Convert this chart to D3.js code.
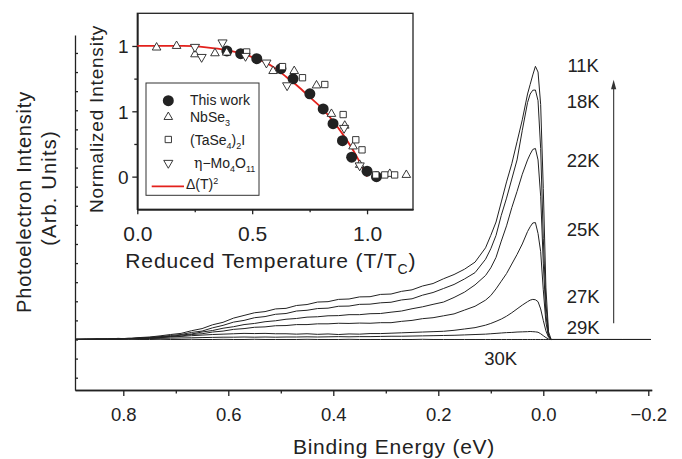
<!DOCTYPE html>
<html>
<head>
<meta charset="utf-8">
<script src="https://cdn.jsdelivr.net/npm/d3@7"></script>
<style>
  html, body { margin: 0; padding: 0; background: #fff; }
  svg text { font-family: "Liberation Sans", Arial, sans-serif; fill: #222; }
</style>
</head>
<body>
<div id="chart"></div>
<script>
;(function () {

    // Binding energy grid (eV), shared by every spectrum
    var energy = [
        0.89, 0.87, 0.85, 0.83, 0.81, 0.79, 0.77, 0.75, 0.73, 0.71,
        0.69, 0.67, 0.65, 0.63, 0.61, 0.59, 0.57, 0.55, 0.53, 0.51,
        0.49, 0.47, 0.45, 0.43, 0.41, 0.39, 0.37, 0.35, 0.33, 0.31,
        0.29, 0.27, 0.25, 0.23, 0.21, 0.19, 0.17, 0.15, 0.13, 0.11,
        0.10, 0.09, 0.08, 0.07, 0.06, 0.05, 0.04, 0.03,
        0.025, 0.02, 0.015, 0.01, 0.005, 0.0, -0.005, -0.01, -0.015,
        -0.05, -0.10, -0.15, -0.205
    ];

    var temperatures = ['11K', '18K', '22K', '25K', '27K', '29K', '30K'];

    var spec11K = [
        0.02, 0.0, 0.04, 0.01, 0.06, 0.03, 0.1, 0.13, 0.19, 0.26,
        0.32, 0.46, 0.57, 0.77, 0.9, 1.12, 1.26, 1.4, 1.46, 1.6,
        1.63, 1.78, 1.83, 1.96, 1.98, 2.1, 2.12, 2.23, 2.24, 2.36,
        2.38, 2.52, 2.6, 2.8, 2.93, 3.18, 3.4, 3.68, 4.05, 4.8,
        5.45, 6.15, 7.2, 8.25, 9.2, 10.35, 11.5, 12.85,
        13.35, 13.85, 14.3, 14.0, 12.3, 7.9, 2.7, 0.4, 0.0,
        0.0, 0.0, 0.0, 0.0
    ];
    var spec18K = [
        0.0, 0.03, 0.01, 0.04, 0.02, 0.07, 0.07, 0.11, 0.15, 0.21,
        0.26, 0.37, 0.44, 0.61, 0.74, 0.91, 1.0, 1.14, 1.2, 1.32,
        1.36, 1.49, 1.53, 1.62, 1.64, 1.74, 1.75, 1.84, 1.85, 1.92,
        1.95, 2.07, 2.13, 2.32, 2.46, 2.67, 2.88, 3.17, 3.5, 4.2,
        4.75, 5.45, 6.5, 7.4, 8.4, 9.4, 10.95, 12.4,
        12.85, 13.05, 13.06, 12.5, 10.0, 5.3, 1.9, 0.25, 0.0,
        0.0, 0.0, 0.0, 0.0
    ];
    var spec22K = [
        0.02, 0.0, 0.03, 0.01, 0.05, 0.04, 0.08, 0.08, 0.14, 0.16,
        0.23, 0.29, 0.39, 0.47, 0.59, 0.67, 0.78, 0.84, 0.93, 0.98,
        1.06, 1.1, 1.17, 1.19, 1.24, 1.25, 1.3, 1.3, 1.35, 1.36,
        1.43, 1.49, 1.61, 1.71, 1.84, 1.96, 2.2, 2.48, 2.86, 3.35,
        3.75, 4.3, 5.15, 5.95, 6.9, 7.75, 8.65, 9.4,
        9.7, 9.95, 10.0, 9.4, 7.5, 4.0, 1.3, 0.2, 0.0,
        0.0, 0.0, 0.0, 0.0
    ];
    var spec25K = [
        0.0, 0.02, 0.01, 0.03, 0.02, 0.05, 0.06, 0.09, 0.1, 0.16,
        0.18, 0.26, 0.3, 0.39, 0.44, 0.53, 0.57, 0.64, 0.66, 0.72,
        0.73, 0.78, 0.78, 0.82, 0.82, 0.85, 0.84, 0.86, 0.85, 0.88,
        0.88, 0.95, 1.0, 1.09, 1.14, 1.24, 1.34, 1.54, 1.74, 2.06,
        2.3, 2.65, 3.05, 3.45, 3.95, 4.45, 5.0, 5.65,
        5.9, 6.1, 6.12, 5.55, 4.6, 2.6, 0.9, 0.15, 0.0,
        0.0, 0.0, 0.0, 0.0
    ];
    var spec27K = [
        0.01, 0.0, 0.02, 0.01, 0.03, 0.04, 0.06, 0.08, 0.1, 0.13,
        0.16, 0.2, 0.23, 0.26, 0.28, 0.3, 0.32, 0.31, 0.32, 0.3,
        0.3, 0.28, 0.3, 0.27, 0.29, 0.26, 0.29, 0.28, 0.31, 0.31,
        0.33, 0.35, 0.37, 0.39, 0.41, 0.43, 0.48, 0.55, 0.62, 0.75,
        0.84, 0.95, 1.07, 1.22, 1.4, 1.6, 1.8, 1.98,
        2.06, 2.1, 2.08, 1.98, 1.6, 1.0, 0.45, 0.12, 0.0,
        0.0, 0.0, 0.0, 0.0
    ];
    var spec29K = [
        0.0, 0.02, 0.0, 0.02, 0.01, 0.03, 0.04, 0.05, 0.06, 0.07,
        0.08, 0.09, 0.1, 0.11, 0.12, 0.12, 0.13, 0.12, 0.13, 0.12,
        0.13, 0.13, 0.14, 0.13, 0.14, 0.15, 0.14, 0.15, 0.15, 0.16,
        0.17, 0.17, 0.18, 0.19, 0.2, 0.21, 0.22, 0.24, 0.26, 0.28,
        0.3, 0.32, 0.34, 0.36, 0.37, 0.39, 0.4, 0.41,
        0.42, 0.41, 0.4, 0.38, 0.3, 0.2, 0.1, 0.03, 0.0,
        0.0, 0.0, 0.0, 0.0
    ];
    var spec30K = [
        0.0, 0.01, 0.0, 0.01, 0.0, 0.01, 0.0, 0.0, 0.01, 0.0,
        0.0, 0.01, 0.0, 0.0, 0.01, 0.0, 0.0, 0.01, 0.0, 0.0,
        0.0, 0.0, 0.01, 0.0, 0.0, 0.0, 0.01, 0.0, 0.0, 0.0,
        0.0, 0.0, 0.0, 0.01, 0.0, 0.0, 0.0, 0.0, 0.0, 0.0,
        0.0, 0.0, 0.0, 0.0, 0.0, 0.0, 0.0, 0.0,
        0.0, 0.0, 0.0, 0.0, 0.0, 0.0, 0.0, 0.0, 0.0,
        0.0, 0.0, 0.0, 0.0
    ];
    var spectra = [spec11K, spec18K, spec22K, spec25K, spec27K, spec29K, spec30K];

    var energyTicks = [0.8, 0.6, 0.4, 0.2, 0.0, -0.2];
    var energyTickLabels = ['0.8', '0.6', '0.4', '0.2', '0.0', '\u22120.2'];
    var energyMinorTicks = [0.7, 0.5, 0.3, 0.1, -0.1];
    var intensityTicks = [-2, -1, 0, 1, 2, 3, 4, 5, 6, 7, 8, 9, 10, 11, 12, 13, 14, 15];

    // Inset: normalized intensity vs reduced temperature
    var thisWorkT = [0.39, 0.45, 0.52, 0.625, 0.678, 0.751, 0.809, 0.852, 0.893, 0.933, 1.0, 1.041];
    var thisWorkI = [0.962, 0.941, 0.903, 0.826, 0.749, 0.634, 0.518, 0.405, 0.275, 0.149, 0.042, 0.0];
    var nbse3T = [0.084, 0.171, 0.251, 0.338, 0.389, 0.591, 0.683, 0.78, 0.845, 0.903, 0.939, 0.968, 1.099, 1.171];
    var nbse3I = [0.988, 1.0, 0.936, 0.944, 0.949, 0.808, 0.808, 0.698, 0.48, 0.39, 0.231, 0.09, 0.021, 0.013];
    var tase4T = [0.476, 0.632, 0.719, 0.816, 0.896, 0.951, 0.978, 1.038, 1.077, 1.12];
    var tase4I = [0.954, 0.842, 0.757, 0.705, 0.475, 0.282, 0.205, 0.013, 0.013, 0.013];
    var mo4T = [0.251, 0.28, 0.371, 0.471, 0.562, 0.652, 0.9, 0.968];
    var mo4I = [0.992, 0.915, 1.026, 0.923, 0.872, 0.698, 0.372, 0.085];
    var gapT = [0, 0.1, 0.2, 0.3, 0.35, 0.4, 0.45, 0.5, 0.55, 0.6, 0.65, 0.7, 0.75, 0.8, 0.85, 0.9, 0.95, 0.98, 1.0];
    var gapI = [1.0, 1.0, 1.0, 0.99, 0.98, 0.965, 0.945, 0.915, 0.88, 0.83, 0.76, 0.69, 0.61, 0.53, 0.43, 0.31, 0.17, 0.07, 0.0];

    var insetXTicks = [0, 0.5, 1.0];
    var insetXTickLabels = ['0.0', '0.5', '1.0'];
    var insetXMinor = [0.25, 0.75];
    var insetYTicks = [0, 0.5, 1.0];
    var insetYTickLabels = ['0', '1', '1'];
    var insetYMinor = [0.25, 0.75];

    // label placement (data units), kept apart from the values
    var labelEnergy = -0.076;
    var labelLevel = [14.37, 12.45, 9.36, 5.77, 2.28, 0.64, -0.98];
    var label30KEnergy = 0.081;

    var W = 682, H = 459;
    var ink = '#222';

    var svg = d3.select('#chart').append('svg')
        .attr('width', W)
        .attr('height', H);

    var x = d3.scaleLinear().domain([0.892, -0.2065]).range([75, 651.7]);
    var y = d3.scaleLinear().domain([-2.644, 15.94]).range([390, 35]);

    // spectra
    var line = d3.line()
        .x(function (d) { return x(d[0]); })
        .y(function (d) { return y(d[1]); });

    svg.append('g').selectAll('path')
        .data(spectra)
        .enter()
        .append('path')
        .attr('d', function (s) { return line(d3.zip(energy, s)); })
        .attr('fill', 'none')
        .attr('stroke', ink)
        .attr('stroke-width', 1)
        .attr('stroke-linejoin', 'round');

    // axes
    function styleAxis(g) {
        g.selectAll('path, line').attr('stroke', ink).attr('stroke-width', 1.3);
        g.selectAll('text').attr('fill', ink);
    }

    var xAxis = svg.append('g')
        .attr('transform', 'translate(0,390)')
        .call(d3.axisBottom(x).tickValues(energyTicks).tickSize(6).tickSizeOuter(0)
            .tickFormat(function (d, i) { return energyTickLabels[i]; }))
        .call(styleAxis);
    xAxis.selectAll('text')
        .attr('dy', null)
        .attr('y', 31)
        .style('font-size', '18.5px');

    svg.append('g')
        .attr('transform', 'translate(0,390)')
        .call(d3.axisBottom(x).tickValues(energyMinorTicks).tickSize(3.5).tickSizeOuter(0).tickFormat(''))
        .call(styleAxis);

    svg.append('g')
        .attr('transform', 'translate(75,0)')
        .call(d3.axisLeft(y).tickValues(intensityTicks).tickSize(-3).tickSizeOuter(0).tickFormat(''))
        .call(styleAxis);

    // titles
    svg.append('text')
        .attr('transform', 'translate(394,454)')
        .attr('text-anchor', 'middle')
        .style('font-size', '21px')
        .style('letter-spacing', '0.75px')
        .text('Binding Energy (eV)');

    svg.append('text')
        .attr('transform', 'translate(31,202) rotate(-90)')
        .attr('text-anchor', 'middle')
        .style('font-size', '20px')
        .style('letter-spacing', '0.8px')
        .text('Photoelectron Intensity');

    svg.append('text')
        .attr('transform', 'translate(56,188) rotate(-90)')
        .attr('text-anchor', 'middle')
        .style('font-size', '20px')
        .style('letter-spacing', '1.2px')
        .text('(Arb. Units)');

    // temperature labels
    svg.append('g').selectAll('text')
        .data(temperatures)
        .enter()
        .append('text')
        .attr('x', function (d, i) { return x(i === 6 ? label30KEnergy : labelEnergy); })
        .attr('y', function (d, i) { return y(labelLevel[i]); })
        .attr('dy', '0.36em')
        .attr('text-anchor', 'middle')
        .style('font-size', '18.5px')
        .text(function (d) { return d; });

    // arrow towards lower temperature
    var ax = x(-0.134);
    svg.append('line')
        .attr('x1', ax).attr('x2', ax)
        .attr('y1', y(0.85)).attr('y2', y(13.2))
        .attr('stroke', '#444')
        .attr('stroke-width', 1.2);
    svg.append('path')
        .attr('d', 'M' + ax + ',' + y(13.6) + 'l-2.6,9.5h5.2z')
        .attr('fill', '#333');

    // ---- inset ----
    var ix = d3.scaleLinear().domain([0, 1.2]).range([137.3, 413]);
    var iy = d3.scaleLinear().domain([-0.25, 1.25]).range([209.3, 13.3]);

    svg.append('rect')
        .attr('x', ix(0)).attr('y', iy(1.25))
        .attr('width', ix(1.2) - ix(0))
        .attr('height', iy(-0.25) - iy(1.25))
        .attr('fill', '#fff')
        .attr('stroke', ink)
        .attr('stroke-width', 1.3);

    var ixAxis = svg.append('g')
        .attr('transform', 'translate(0,' + iy(-0.25) + ')')
        .call(d3.axisBottom(ix).tickValues(insetXTicks).tickSize(5).tickSizeOuter(0)
            .tickFormat(function (d, i) { return insetXTickLabels[i]; }))
        .call(styleAxis);
    ixAxis.selectAll('text')
        .attr('dy', null)
        .attr('y', 31.4)
        .style('font-size', '21px');
    svg.append('g')
        .attr('transform', 'translate(0,' + iy(-0.25) + ')')
        .call(d3.axisBottom(ix).tickValues(insetXMinor).tickSize(3).tickSizeOuter(0).tickFormat(''))
        .call(styleAxis);

    var iyAxis = svg.append('g')
        .attr('transform', 'translate(' + ix(0) + ',0)')
        .call(d3.axisLeft(iy).tickValues(insetYTicks).tickSize(5).tickSizeOuter(0)
            .tickFormat(function (d, i) { return insetYTickLabels[i]; }))
        .call(styleAxis);
    iyAxis.selectAll('text')
        .attr('x', -8.8)
        .attr('dy', '0.36em')
        .style('font-size', '19px');
    svg.append('g')
        .attr('transform', 'translate(' + ix(0) + ',0)')
        .call(d3.axisLeft(iy).tickValues(insetYMinor).tickSize(3).tickSizeOuter(0).tickFormat(''))
        .call(styleAxis);

    var ixTitle = svg.append('text')
        .attr('transform', 'translate(270.8,268.3)')
        .attr('text-anchor', 'middle')
        .style('font-size', '21px')
        .style('letter-spacing', '0.85px');
    ixTitle.append('tspan').text('Reduced Temperature (T/T');
    ixTitle.append('tspan').attr('dy', 6).style('font-size', '14px').text('C');
    ixTitle.append('tspan').attr('dy', -6).text(')');

    svg.append('text')
        .attr('transform', 'translate(103.3,119) rotate(-90)')
        .attr('text-anchor', 'middle')
        .style('font-size', '19px')
        .style('letter-spacing', '0.8px')
        .text('Normalized Intensity');

    // BCS-like gap curve
    var gapLine = d3.line()
        .x(function (d) { return ix(d[0]); })
        .y(function (d) { return iy(d[1]); })
        .curve(d3.curveMonotoneX);
    svg.append('path')
        .attr('d', gapLine(d3.zip(gapT, gapI)))
        .attr('fill', 'none')
        .attr('stroke', '#e3211c')
        .attr('stroke-width', 1.8);

    var symCircle = d3.symbol().type(d3.symbolCircle).size(95);
    var symTri = d3.symbol().type(d3.symbolTriangle).size(32);
    var symSquare = d3.symbol().type(d3.symbolSquare).size(40);
    var symDown = d3.symbol().type(d3.symbolTriangle).size(36);

    function markers(ts, is, sym, filled, rot) {
        svg.append('g').selectAll('path')
            .data(d3.zip(ts, is))
            .enter()
            .append('path')
            .attr('d', sym)
            .attr('transform', function (d) {
                return 'translate(' + ix(d[0]) + ',' + iy(d[1]) + ')' + (rot ? ' rotate(180)' : '');
            })
            .attr('fill', filled ? ink : '#fff')
            .attr('stroke', ink)
            .attr('stroke-width', filled ? 0 : 0.9);
    }

    markers(thisWorkT, thisWorkI, symCircle, true, false);
    markers(nbse3T, nbse3I, symTri, false, false);
    markers(tase4T, tase4I, symSquare, false, false);
    markers(mo4T, mo4I, symDown, false, true);

    // legend
    var lg = svg.append('g');
    lg.append('rect')
        .attr('x', 146).attr('y', 83)
        .attr('width', 113).attr('height', 112.3)
        .attr('fill', '#fff')
        .attr('stroke', '#333')
        .attr('stroke-width', 1);

    var legendRows = [100, 117, 139.5, 163, 184];
    var symX = 168.3, textX = 190;

    lg.append('path').attr('d', symCircle).attr('transform', 'translate(' + symX + ',' + (legendRows[0] + 0.7) + ')').attr('fill', ink);
    lg.append('path').attr('d', symTri).attr('transform', 'translate(' + symX + ',' + legendRows[1] + ')')
        .attr('fill', '#fff').attr('stroke', ink).attr('stroke-width', 0.9);
    lg.append('path').attr('d', symSquare).attr('transform', 'translate(' + symX + ',' + legendRows[2] + ')')
        .attr('fill', '#fff').attr('stroke', ink).attr('stroke-width', 0.9);
    lg.append('path').attr('d', symDown).attr('transform', 'translate(' + symX + ',' + legendRows[3] + ') rotate(180)')
        .attr('fill', '#fff').attr('stroke', ink).attr('stroke-width', 0.9);
    lg.append('line')
        .attr('x1', 151.7).attr('x2', 184)
        .attr('y1', legendRows[4] + 2.3).attr('y2', legendRows[4] + 2.3)
        .attr('stroke', '#e3211c').attr('stroke-width', 1.8);

    function legendText(row) {
        return lg.append('text')
            .attr('x', textX)
            .attr('y', legendRows[row])
            .attr('dy', '0.36em')
            .style('font-size', '14px');
    }
    function sub(t, s) {
        t.append('tspan').attr('dy', 4).style('font-size', '9px').text(s);
    }
    function back(t, s) {
        t.append('tspan').attr('dy', -4).text(s);
    }

    legendText(0).text('This work');

    var t1 = legendText(1);
    t1.append('tspan').text('NbSe');
    sub(t1, '3');

    var t2 = legendText(2);
    t2.append('tspan').text('(TaSe');
    sub(t2, '4');
    back(t2, ')');
    sub(t2, '2');
    back(t2, 'I');

    var t3 = legendText(3).attr('x', textX + 4);
    t3.append('tspan').style('font-family', '"DejaVu Serif", serif').text('\u03b7');
    t3.append('tspan').text('\u2212Mo');
    sub(t3, '4');
    back(t3, 'O');
    sub(t3, '11');

    var t4 = legendText(4).attr('x', 186);
    t4.append('tspan').text('\u0394(T)');
    t4.append('tspan').attr('dy', -5).style('font-size', '9px').text('2');

})();
</script>
</body>
</html>
